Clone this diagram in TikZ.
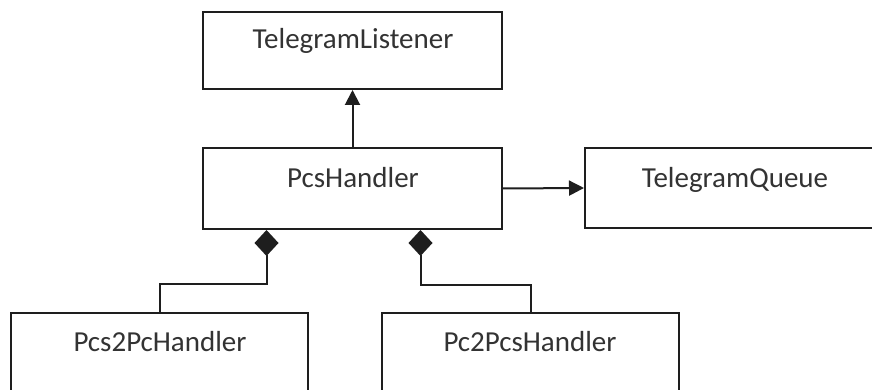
\documentclass[tikz,border=0pt]{standalone}
\usepackage{fontspec}
\setmainfont{Carlito}
\usetikzlibrary{arrows.meta,calc}

\definecolor{inkline}{HTML}{1E1E1E}
\definecolor{inktext}{HTML}{333333}

\begin{document}
\begin{tikzpicture}[x=1pt,y=-1pt,
  classbox/.style={draw=inkline,line width=2pt,fill=white,rectangle,inner sep=0pt},
  classname/.style={text=inktext,font=\fontsize{29}{33}\selectfont,anchor=base,inner sep=0pt},
  link/.style={draw=inkline,line width=2pt},
  assoc/.style={link,-{Triangle[length=15pt,width=15pt]}},
  comp/.style={link,{Diamond[length=26pt,width=24pt]}-}]

  % canvas
  \clip (0,0) rectangle (872,390);
  \fill[white] (0,0) rectangle (872,390);

  % class boxes (lower ones and the queue run past the edge)
  \node[classbox,minimum width=299pt,minimum height=77pt] (tl)  at (352.5,50.5) {};
  \node[classbox,minimum width=299pt,minimum height=81pt] (pcs) at (352.5,188.5) {};
  \node[classbox,minimum width=300pt,minimum height=80pt] (tq)  at (735,188) {};
  \node[classbox,minimum width=297pt,minimum height=120pt] (p2p) at (159.5,373) {};
  \node[classbox,minimum width=297pt,minimum height=120pt] (pp2) at (530.5,373) {};

  % class names
  \node[classname] (tltext)  at (353,49)  {TelegramListener};
  \node[classname] (pcstext) at (353,188) {PcsHandler};
  \node[classname] (tqtext)  at (735,188) {TelegramQueue};
  \node[classname] (p2ptext) at (160,351) {Pcs2PcHandler};
  \node[classname] (pp2text) at (530,351) {Pc2PcsHandler};

  % associations
  \draw[assoc] (pcs.north) -- (tl.south);
  \draw[assoc] (pcs.east) -- (tq.west);

  % compositions
  \coordinate (cA) at ([xshift=64.5pt]pcs.south west);
  \coordinate (cB) at ([xshift=218.5pt]pcs.south west);
  \draw[comp] (cA) -- ++(0,54) -| (p2p.north);
  \draw[comp] (cB) -- ++(0,55) -| (pp2.north);
\end{tikzpicture}
\end{document}
